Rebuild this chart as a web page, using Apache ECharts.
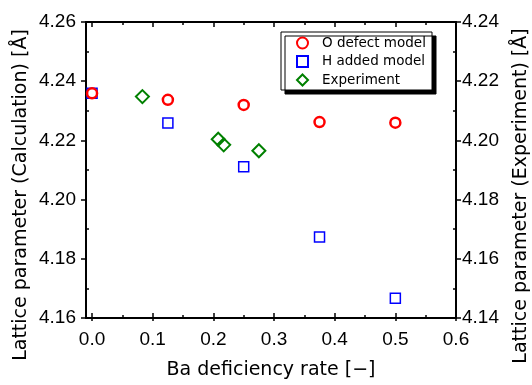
<!DOCTYPE html>
<html>
<head>
<meta charset="utf-8">
<script src="https://cdn.jsdelivr.net/npm/echarts@6/dist/echarts.min.js"></script>
<style>
  html, body { margin: 0; padding: 0; background: #fff; }
  #chart { width: 532px; height: 385px; }
</style>
</head>
<body>
<div id="chart"></div>
<script>
// calculation (left axis)
const xCalc = [0, 0.125, 0.25, 0.375, 0.5];
const oDefect = [4.2359, 4.2337, 4.2320, 4.2262, 4.2260];
const hAdded = [4.2359, 4.2259, 4.2111, 4.1874, 4.1667];
// experiment (right axis)
const xExp = [0.083, 0.208, 0.217, 0.275];
const expVals = [4.2148, 4.2004, 4.1985, 4.1965];

const xMajor = [0, 0.1, 0.2, 0.3, 0.4, 0.5, 0.6];
const xMinor = [0.05, 0.15, 0.25, 0.35, 0.45, 0.55];
const yLeftMajor = [4.16, 4.18, 4.20, 4.22, 4.24, 4.26];
const yLeftMinor = [4.17, 4.19, 4.21, 4.23, 4.25];
const yRightMajor = [4.14, 4.16, 4.18, 4.20, 4.22, 4.24];
const yRightMinor = [4.15, 4.17, 4.19, 4.21, 4.23];

const FONT = 'Liberation Sans, Arial, sans-serif';
const WIDE = 'DejaVu Sans, sans-serif';
const lineStyle = { color: '#000', width: 2 };

function xAx(pos, ticks, len, inside, extra) {
  return Object.assign({
    type: 'value', position: pos, min: -0.01, max: 0.6,
    splitLine: { show: false },
    axisLine: { show: false, onZero: false, lineStyle },
    axisTick: { show: true, inside, length: len, customValues: ticks, lineStyle: { color: '#000', width: 1.5 } },
    axisLabel: { show: false }
  }, extra || {});
}
function yAx(pos, min, max, ticks, len, inside, extra) {
  return Object.assign({
    type: 'value', position: pos, min, max,
    splitLine: { show: false },
    axisLine: { show: false, onZero: false, lineStyle },
    axisTick: { show: true, inside, length: len, customValues: ticks, lineStyle: { color: '#000', width: 1.5 } },
    axisLabel: { show: false }
  }, extra || {});
}

const chart = echarts.init(document.getElementById('chart'));
chart.setOption({
  animation: false,
  backgroundColor: '#fff',
  grid: { left: 86, right: 76, top: 22, bottom: 65 },
  xAxis: [
    xAx('bottom', xMajor, 5, true, {
      axisLine: { show: true, onZero: false, lineStyle },
      axisLabel: { show: true, customValues: xMajor, margin: 12, fontSize: 19, color: '#000', fontFamily: FONT,
        formatter: v => v.toFixed(1) },
      name: 'Ba deficiency rate [\u2212]', nameLocation: 'middle', nameGap: 43,
      nameTextStyle: { fontSize: 19, color: '#000', fontFamily: WIDE }
    }),
    xAx('bottom', xMajor, 3, false),
    xAx('bottom', xMinor, 3, true),
    xAx('top', xMajor, 5, true, { axisLine: { show: true, onZero: false, lineStyle } }),
    xAx('top', xMinor, 3, true)
  ],
  yAxis: [
    yAx('left', 4.16, 4.26, yLeftMajor, 5, false, {
      axisLine: { show: true, onZero: false, lineStyle },
      axisLabel: { show: true, customValues: yLeftMajor, margin: 10, fontSize: 19, color: '#000', fontFamily: FONT,
        formatter: v => v.toFixed(2) }
    }),
    yAx('left', 4.16, 4.26, yLeftMinor, 3, true),
    yAx('right', 4.14, 4.24, yRightMajor, 5, false, {
      axisLine: { show: true, onZero: false, lineStyle },
      axisLabel: { show: true, customValues: yRightMajor, margin: 6, fontSize: 19, color: '#000', fontFamily: FONT,
        formatter: v => v.toFixed(2) }
    }),
    yAx('right', 4.14, 4.24, yRightMinor, 3, true)
  ],
  legend: {
    orient: 'vertical', left: 281, top: 32,
    padding: [4, 3, 3, 15], itemGap: 4.5, itemWidth: 11, itemHeight: 11,
    backgroundColor: '#fff', borderColor: '#000', borderWidth: 1, borderRadius: 0,
    shadowColor: '#000', shadowBlur: 0, shadowOffsetX: 4, shadowOffsetY: 4,
    textStyle: { fontSize: 13.5, lineHeight: 14, width: 107, padding: [0, 0, 0, 9], color: '#000', fontFamily: WIDE },
    data: [
      { name: 'O defect model', icon: 'circle' },
      { name: 'H added model', icon: 'rect' },
      { name: 'Experiment', icon: 'diamond' }
    ]
  },
  graphic: [
    { type: 'text', x: 21, y: 195, rotation: Math.PI / 2,
      style: { text: 'Lattice parameter (Calculation) [\u00c5]', fontSize: 19, fontFamily: WIDE, fill: '#000',
        align: 'center', verticalAlign: 'middle' } },
    { type: 'text', x: 521, y: 196, rotation: Math.PI / 2,
      style: { text: 'Lattice parameter (Experiment) [\u00c5]', fontSize: 19, fontFamily: WIDE, fill: '#000',
        align: 'center', verticalAlign: 'middle' } }
  ],
  series: [
    {
      name: 'H added model', type: 'scatter', xAxisIndex: 0, yAxisIndex: 0,
      symbol: 'rect', symbolSize: 10,
      itemStyle: { color: 'rgba(255,255,255,0)', borderColor: '#0000ff', borderWidth: 1.5, opacity: 1 },
      data: xCalc.map((x, i) => [x, hAdded[i]])
    },
    {
      name: 'O defect model', type: 'scatter', xAxisIndex: 0, yAxisIndex: 0,
      symbol: 'circle', symbolSize: 10,
      itemStyle: { color: 'rgba(255,255,255,0)', borderColor: '#ff0000', borderWidth: 2.5, opacity: 1 },
      data: xCalc.map((x, i) => [x, oDefect[i]])
    },
    {
      name: 'Experiment', type: 'scatter', xAxisIndex: 0, yAxisIndex: 2,
      symbol: 'diamond', symbolSize: 13,
      itemStyle: { color: 'rgba(255,255,255,0)', borderColor: '#008000', borderWidth: 2, opacity: 1 },
      data: xExp.map((x, i) => [x, expVals[i]])
    }
  ]
});
</script>
</body>
</html>
